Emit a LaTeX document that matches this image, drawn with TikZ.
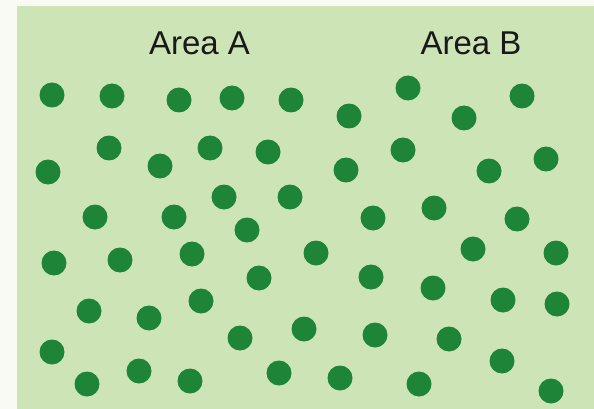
\documentclass[tikz,border=0pt]{standalone}
\usepackage{fontspec}
\setmainfont{Liberation Sans}
\definecolor{paper}{RGB}{250,250,244}
\definecolor{panel}{RGB}{204,228,182}
\definecolor{dotgreen}{RGB}{30,132,56}
\tikzset{
  dotmark/.style={circle, fill=dotgreen, inner sep=0pt, minimum size=25pt},
  arealabel/.style={text=black!90, inner sep=0pt, font=\fontsize{33}{36}\selectfont}
}
\begin{document}
\begin{tikzpicture}[x=1pt,y=-1pt]
\useasboundingbox (0,0) rectangle (594,409);
\fill[paper] (0,0) rectangle (594,409);
\fill[panel] (17,6) rectangle (594,409);
\node[arealabel] (areaA) at (199.5,43) {Area A};
\node[arealabel] (areaB) at (471,43) {Area B};
\foreach \px/\py [count=\i] in {
 52/95, 112/96, 179/100, 232/98, 291/100, 349/116, 408/88, 464/118, 522/96,
 109/148, 210/148, 268/152, 48/172, 160/166, 346/170, 403/150, 489/171, 546/159,
 95/217, 174/217, 224/197, 290/197, 247/230, 373/218, 434/208, 517/219,
 54/263, 120/260, 192/254, 259/278, 316/253, 473/249, 556/253,
 371/277, 433/288, 503/300, 557/304,
 89/311, 149/318, 201/301, 304/329, 240/338, 375/335, 449/339,
 52/352, 87/384, 139/371, 190/381, 279/373, 340/378, 419/384, 502/361, 551/391}
 \node[dotmark] (d\i) at (\px,\py) {};
\end{tikzpicture}
\end{document}
